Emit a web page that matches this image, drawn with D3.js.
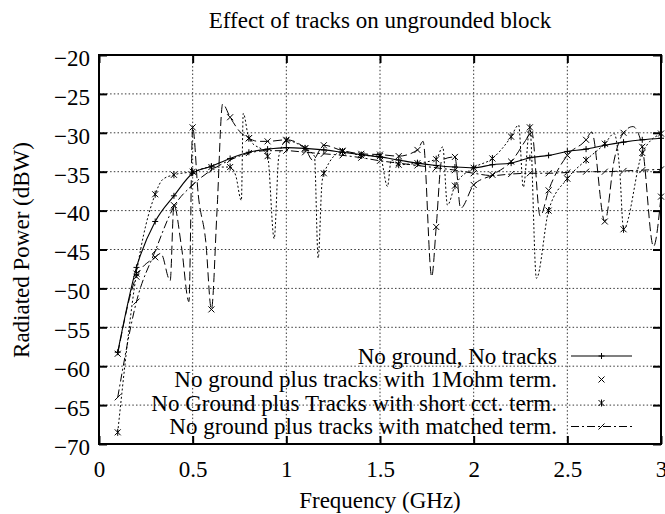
<!DOCTYPE html>
<html><head><meta charset="utf-8">
<script src="https://cdn.jsdelivr.net/npm/d3@7"></script>
<style>
body{margin:0;background:#fff}
svg{display:block}
text{font-family:"Liberation Serif","Times New Roman",serif;fill:#000}
</style>
</head><body><svg id="c" width="665" height="514"></svg>
<script>
const title = "Effect of tracks on ungrounded block";
const xLabel = "Frequency (GHz)";
const yLabel = "Radiated Power (dBW)";
const xTicks = [0, 0.5, 1, 1.5, 2, 2.5, 3];
const yTicks = [-70, -65, -60, -55, -50, -45, -40, -35, -30, -25, -20];
const seriesNames = [
  "No ground, No tracks",
  "No ground plus tracks with 1Mohm term.",
  "No Ground plus Tracks with short cct. term.",
  "No ground plus tracks with matched term."
];
const freqs = [0.1,0.2,0.3,0.4,0.5,0.6,0.7,0.8,0.9,1.0,1.1,1.2,1.3,1.4,1.5,1.6,1.7,1.8,1.9,2.0,2.1,2.2,2.3,2.4,2.5,2.6,2.7,2.8,2.9,3.0];
const noTracks = [-58.2,-47.3,-41.4,-38.1,-35.2,-34.3,-33.3,-32.5,-32.1,-31.9,-32.0,-32.2,-32.5,-32.8,-33.1,-33.5,-33.9,-34.2,-34.4,-34.5,-34.1,-33.9,-33.2,-32.9,-32.4,-32.1,-31.6,-31.2,-30.9,-30.7];
const mohm = [-58.4,-48.5,-46.0,-39.3,-29.3,-52.7,-28.0,-30.7,-31.1,-30.9,-32.0,-31.6,-32.3,-32.7,-32.8,-33.0,-32.2,-42.1,-33.1,-36.7,-35.4,-33.7,-30.2,-37.4,-32.9,-30.9,-41.4,-30.0,-31.8,-38.2];
const mohmExtraF = [0.33,0.38,0.44,0.48,0.53,0.57,0.63,0.66,0.75,0.85,1.14,1.73,1.776,1.83,1.93,2.31,2.355,2.63,2.75,2.85,2.96];
const mohmExtraV = [-45.5,-49.0,-44.6,-51.7,-38.0,-44.0,-40.0,-26.3,-29.8,-31.1,-33.5,-31.1,-48.5,-33.5,-39.7,-29.9,-40.7,-29.9,-33.5,-29.2,-44.6];
const shortCct = [-68.5,-48.1,-37.9,-35.4,-35.0,-34.4,-34.4,-30.7,-33.0,-31.0,-32.0,-35.2,-32.4,-32.9,-33.0,-34.1,-33.9,-33.4,-36.8,-34.5,-33.3,-30.5,-29.3,-40.0,-35.9,-33.5,-31.4,-42.4,-32.6,-30.1];
const shortExtraF = [0.34,0.73,0.76,0.77,0.935,0.96,1.15,1.17,1.19,1.54,1.56,1.835,1.86,2.24,2.265,2.335,2.75,2.78];
const shortExtraV = [-36.0,-35.5,-38.7,-27.5,-43.6,-33.0,-33.0,-46.1,-36.5,-36.9,-33.5,-31.8,-39.3,-29.0,-37.0,-48.7,-30.1,-35.0];
const matched = [-64.0,-51.7,-45.2,-39.5,-36.7,-34.8,-33.5,-32.6,-32.3,-32.3,-32.5,-32.7,-32.9,-33.2,-33.6,-33.9,-34.2,-34.5,-34.8,-35.2,-35.5,-35.3,-35.2,-35.2,-35.1,-35.0,-35.0,-34.9,-34.8,-34.7];

const L = 99, R = 661, T = 55, B = 444;
const FS = 23;
const svg = d3.select("#c");
const x = d3.scaleLinear().domain([0, 3]).range([L, R]);
const y = d3.scaleLinear().domain([-70, -20]).range([B, T]);

// grid
const grid = svg.append("g").attr("stroke", "#222").attr("stroke-width", 0.9).attr("stroke-dasharray", "1.5,2.2").attr("fill", "none");
xTicks.filter(t => t > 0 && t < 3).forEach(t => grid.append("line").attr("x1", x(t)).attr("x2", x(t)).attr("y1", T).attr("y2", B));
yTicks.filter(t => t > -70 && t < -20).forEach(t => grid.append("line").attr("y1", y(t)).attr("y2", y(t)).attr("x1", L).attr("x2", R));

// curves
function mergeLine(vals, ef, ev) {
  const pts = freqs.map((f, i) => [f, vals[i]]);
  if (ef) ef.forEach((f, i) => pts.push([f, ev[i]]));
  return pts.sort((a, b) => a[0] - b[0]);
}
const lineGen = d3.line().x(d => x(d[0])).y(d => y(d[1])).curve(d3.curveMonotoneX);
const styles = [
  {dash: null, width: 1.1},
  {dash: "9,4", width: 1},
  {dash: "2,2.2", width: 1},
  {dash: "8,3,2,3", width: 1}
];
const markers = [
  "M-3,0H3M0,-3V3",
  "M-3,-3L3,3M-3,3L3,-3",
  "M-3,-3L3,3M-3,3L3,-3M0,-3.5V3.5",
  "M-3,3L3,-3"
];
const lines = [
  mergeLine(noTracks),
  mergeLine(mohm, mohmExtraF, mohmExtraV),
  mergeLine(shortCct, shortExtraF, shortExtraV),
  mergeLine(matched)
];
const markVals = [noTracks, mohm, shortCct, matched];

svg.append("defs").append("clipPath").attr("id", "clip").append("rect").attr("x", L).attr("y", T).attr("width", R - L).attr("height", B - T);
const plot = svg.append("g");
[3, 2, 1, 0].forEach(k => {
  plot.append("path").attr("clip-path", "url(#clip)")
    .attr("d", lineGen(lines[k])).attr("fill", "none").attr("stroke", "#000")
    .attr("stroke-width", styles[k].width).attr("stroke-dasharray", styles[k].dash);
  plot.append("g").selectAll("path").data(freqs.map((f, i) => [f, markVals[k][i]])).join("path")
    .attr("transform", d => `translate(${x(d[0])},${y(d[1])})`)
    .attr("d", markers[k]).attr("fill", "none").attr("stroke", "#000").attr("stroke-width", 1);
});

// axes with inward ticks
const ax = svg.append("g");
ax.append("g").attr("transform", `translate(${L},0)`).call(d3.axisLeft(y).tickValues(yTicks).tickSizeInner(-8).tickSizeOuter(0).tickPadding(9).tickFormat(d => d3.format("d")(d)))
  .call(g => { g.select(".domain").remove(); g.selectAll("text").attr("font-size", FS).attr("font-family", "Liberation Serif").attr("dy", "0.45em"); });
ax.append("g").attr("transform", `translate(${R},0)`).call(d3.axisRight(y).tickValues(yTicks).tickSizeInner(-8).tickSizeOuter(0).tickFormat(""))
  .call(g => g.select(".domain").remove());
ax.append("g").attr("transform", `translate(0,${B})`).call(d3.axisBottom(x).tickValues(xTicks).tickSizeInner(-8).tickSizeOuter(0).tickPadding(17).tickFormat(d => d3.format("")(d)))
  .call(g => { g.select(".domain").remove(); g.selectAll("text").attr("font-size", FS).attr("font-family", "Liberation Serif"); });
ax.append("g").attr("transform", `translate(0,${T})`).call(d3.axisTop(x).tickValues(xTicks).tickSizeInner(-8).tickSizeOuter(0).tickFormat(""))
  .call(g => g.select(".domain").remove());
ax.selectAll(".tick line").attr("stroke", "#000").attr("stroke-width", 2);
svg.append("rect").attr("x", L).attr("y", T).attr("width", R - L).attr("height", B - T)
  .attr("fill", "none").attr("stroke", "#000").attr("stroke-width", 2);

// titles
svg.append("text").attr("x", 380).attr("y", 28).attr("text-anchor", "middle").attr("font-size", FS).text(title);
svg.append("text").attr("x", 380).attr("y", 508).attr("text-anchor", "middle").attr("font-size", FS).text(xLabel);
svg.append("text").attr("transform", "translate(21,250) rotate(-90)").attr("text-anchor", "middle").attr("dy", "0.35em").attr("font-size", FS).text(yLabel);

// legend
const legY = [356, 379.5, 403, 426.5];
const lg = svg.append("g");
seriesNames.forEach((name, k) => {
  lg.append("text").attr("x", 557).attr("y", legY[k]).attr("dy", "0.33em").attr("text-anchor", "end").attr("font-size", FS).text(name);
  if (k === 0 || k === 3) {
    lg.append("line").attr("x1", 571).attr("x2", 632).attr("y1", legY[k]).attr("y2", legY[k])
      .attr("stroke", "#000").attr("stroke-width", styles[k].width).attr("stroke-dasharray", styles[k].dash);
  }
  lg.append("path").attr("transform", `translate(601.5,${legY[k]})`).attr("d", markers[k]).attr("fill", "none").attr("stroke", "#000");
});
</script>
</body></html>
